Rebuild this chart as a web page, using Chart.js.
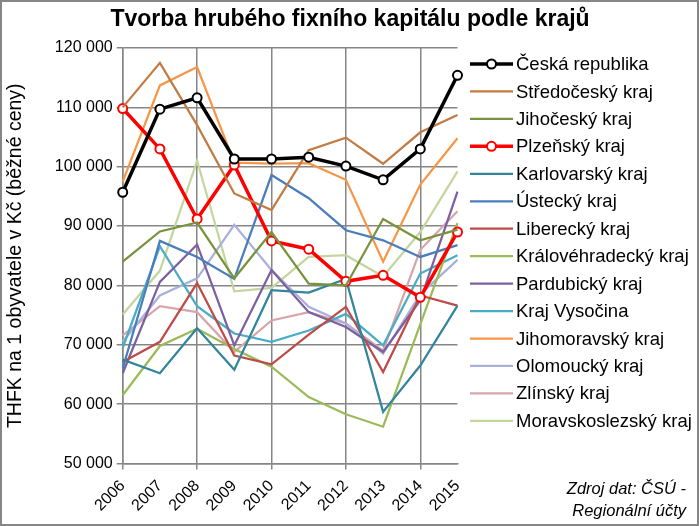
<!DOCTYPE html>
<html>
<head>
<meta charset="utf-8">
<script src="https://cdn.jsdelivr.net/npm/chart.js@4"></script>
<style>
  body { margin: 0; background: #fff; }
  canvas { display: block; }
</style>
</head>
<body>
<canvas id="chart" width="699" height="526"></canvas>
<script>
// Data (Kč na 1 obyvatele)
const years = ["2006", "2007", "2008", "2009", "2010", "2011", "2012", "2013", "2014", "2015"];
const ceskaRepublika = [95700, 109700, 111600, 101300, 101300, 101600, 100100, 97800, 103000, 115400];
const stredocesky = [110000, 117500, 107000, 95500, 92700, 102800, 104900, 100500, 105800, 108700];
const jihocesky = [84000, 89100, 90600, 81200, 89000, 80300, 80000, 91200, 87600, 89400];
const plzensky = [109800, 103000, 91200, 100300, 87500, 86100, 80700, 81700, 78000, 89000];
const karlovarsky = [67500, 65200, 72800, 65800, 79200, 78800, 81100, 58700, 66500, 76600];
const ustecky = [66000, 87500, 84800, 81100, 98600, 94700, 89300, 87600, 84800, 86800];
const liberecky = [67100, 70500, 80400, 68200, 66700, 71700, 76400, 65400, 78300, 76600];
const kralovehradecky = [61500, 69800, 72700, 69300, 66300, 61200, 58300, 56200, 73500, 90500];
const pardubicky = [65200, 80600, 86900, 69900, 82600, 75500, 73000, 68800, 77500, 95800];
const vysocina = [69500, 86600, 76500, 71900, 70500, 72400, 75200, 69900, 82000, 85100];
const jihomoravsky = [97500, 113700, 116800, 100700, 100500, 100600, 97800, 84000, 97000, 104800];
const olomoucky = [70500, 78300, 81200, 90200, 82600, 76400, 73600, 68500, 78500, 84300];
const zlinsky = [71600, 76500, 75500, 68800, 74100, 75500, 73600, 69000, 86000, 92500];
const moravskoslezsky = [75100, 82500, 101000, 79000, 79600, 84800, 85100, 81500, 89000, 99200];

// y axis
const yMin = 50000;
const yMax = 120000;
const yStep = 10000;

const FONT = '"Liberation Sans", Arial, sans-serif';

const series = [
  { label: "Česká republika", data: ceskaRepublika, color: "#000000", width: 3.5, marker: true },
  { label: "Středočeský kraj", data: stredocesky, color: "#C27B43", width: 2.25 },
  { label: "Jihočeský kraj", data: jihocesky, color: "#77933C", width: 2.25 },
  { label: "Plzeňský kraj", data: plzensky, color: "#FF0000", width: 3.5, marker: true },
  { label: "Karlovarský kraj", data: karlovarsky, color: "#31859C", width: 2.25 },
  { label: "Ústecký kraj", data: ustecky, color: "#4A7EBB", width: 2.25 },
  { label: "Liberecký kraj", data: liberecky, color: "#BE4B48", width: 2.25 },
  { label: "Královéhradecký kraj", data: kralovehradecky, color: "#9BBB59", width: 2.25 },
  { label: "Pardubický kraj", data: pardubicky, color: "#7D60A0", width: 2.25 },
  { label: "Kraj Vysočina", data: vysocina, color: "#4BACC6", width: 2.25 },
  { label: "Jihomoravský kraj", data: jihomoravsky, color: "#F79646", width: 2.25 },
  { label: "Olomoucký kraj", data: olomoucky, color: "#A9B0DA", width: 2.25 },
  { label: "Zlínský kraj", data: zlinsky, color: "#D7A6AB", width: 2.25 },
  { label: "Moravskoslezský kraj", data: moravskoslezsky, color: "#C4D6A0", width: 2.25 },
];

function formatThousands(v) {
  return String(v).replace(/\B(?=(\d{3})+(?!\d))/g, " ");
}

// title, legend on the right, source note and outer frame
const sidePlugin = {
  id: "side",
  afterDraw(chart) {
    const ctx = chart.ctx;
    ctx.save();
    ctx.fillStyle = "#000";
    ctx.font = "bold 23px " + FONT;
    ctx.textAlign = "center";
    ctx.textBaseline = "middle";
    ctx.fillText("Tvorba hrubého fixního kapitálu podle krajů", 350, 20);

    chart.data.datasets.forEach((ds, i) => {
      const y = 64 + i * 27.45;
      ctx.strokeStyle = ds.borderColor;
      ctx.lineWidth = ds.borderWidth;
      ctx.beginPath();
      ctx.moveTo(470, y);
      ctx.lineTo(513, y);
      ctx.stroke();
      if (ds.pointRadius > 0) {
        ctx.beginPath();
        ctx.arc(491.5, y, ds.pointRadius, 0, Math.PI * 2);
        ctx.fillStyle = "#fff";
        ctx.fill();
        ctx.lineWidth = ds.pointBorderWidth;
        ctx.stroke();
      }
      ctx.fillStyle = "#000";
      ctx.font = "18.5px " + FONT;
      ctx.textAlign = "left";
      ctx.textBaseline = "middle";
      ctx.fillText(ds.label, 516, y + 1);
    });

    ctx.font = "italic 16.5px " + FONT;
    ctx.textAlign = "right";
    ctx.fillText("Zdroj dat: ČSÚ -", 686, 489);
    ctx.fillText("Regionální účty", 686, 511);

    ctx.strokeStyle = "#868686";
    ctx.lineWidth = 2;
    ctx.strokeRect(1, 1, 697, 524);
    ctx.restore();
  },
};

const ctx = document.getElementById("chart").getContext("2d");
const chart = new Chart(ctx, {
  type: "line",
  data: {
    labels: years,
    datasets: series.map((s) => ({
      label: s.label,
      data: s.data,
      borderColor: s.color,
      backgroundColor: s.color,
      borderWidth: s.width,
      tension: 0,
      fill: false,
      pointRadius: s.marker ? 4.5 : 0,
      pointBackgroundColor: "#fff",
      pointBorderColor: s.color,
      pointBorderWidth: 2,
    })),
  },
  options: {
    responsive: false,
    animation: false,
    devicePixelRatio: 1,
    layout: { padding: { top: 48, left: 2, right: 241.5, bottom: 0 } },
    plugins: {
      legend: { display: false },
      tooltip: { enabled: false },
      title: { display: false },
    },
    scales: {
      x: {
        offset: false,
        grid: {
          color: (c) => (c.index % 2 === 0 ? "#868686" : "rgba(0,0,0,0)"),
          lineWidth: 1.5,
          tickLength: 6,
        },
        border: { color: "#868686", width: 1.5 },
        ticks: {
          autoSkip: false,
          maxRotation: 45,
          minRotation: 45,
          color: "#000",
          font: { family: FONT, size: 16 },
          padding: 7,
        },
        afterFit: (s) => {
          s.height = 62.5;
        },
      },
      y: {
        min: yMin,
        max: yMax,
        ticks: {
          stepSize: yStep,
          color: "#000",
          font: { family: FONT, size: 16 },
          padding: 4,
          callback: (v) => formatThousands(v),
        },
        grid: { color: "#868686", lineWidth: 1.5, tickLength: 6 },
        border: { color: "#868686", width: 1.5 },
        title: {
          display: true,
          text: "THFK na 1 obyvatele v Kč (běžné ceny)",
          color: "#000",
          font: { family: FONT, size: 19.5 },
          padding: { top: 2, bottom: 0 },
        },
        afterFit: (s) => {
          s.width = 120.7;
        },
      },
    },
  },
  plugins: [sidePlugin],
});
</script>
</body>
</html>
